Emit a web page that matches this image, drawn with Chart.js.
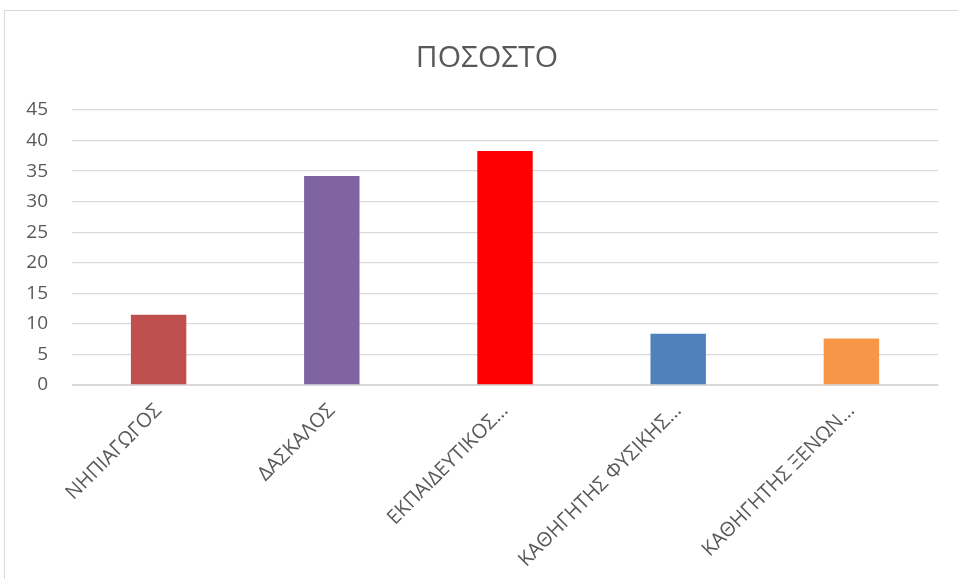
<!DOCTYPE html>
<html>
<head>
<meta charset="utf-8">
<script src="https://cdn.jsdelivr.net/npm/chart.js@4/dist/chart.umd.min.js"></script>
<style>
  html, body { margin: 0; padding: 0; background: #fff; overflow: hidden; }
  #frame { position: absolute; left: 4px; top: 10px; width: 1000px; height: 700px; border: 1px solid #d9d9d9; box-sizing: border-box; }
  #wrap { position: absolute; left: 0; top: 0; width: 958px; height: 579px; }
</style>
</head>
<body>
<div id="frame"></div>
<div id="wrap"><canvas id="c"></canvas></div>
<script>
const chartTitle = "ΠΟΣΟΣΤΟ";
const categories = ["ΝΗΠΙΑΓΩΓΟΣ", "ΔΑΣΚΑΛΟΣ", "ΕΚΠΑΙΔΕΥΤΙΚΟΣ…", "ΚΑΘΗΓΗΤΗΣ ΦΥΣΙΚΗΣ…", "ΚΑΘΗΓΗΤΗΣ ΞΕΝΩΝ…"];
const values = [11.5, 34.2, 38.3, 8.4, 7.6];
const barColors = ["#c0504d", "#8064a2", "#ff0000", "#4f81bd", "#f79646"];
const yMin = 0, yMax = 45, yStep = 5;

new Chart(document.getElementById("c"), {
  type: "bar",
  data: {
    labels: categories,
    datasets: [{ data: values, backgroundColor: barColors, barPercentage: 0.32, categoryPercentage: 1.0, yAxisID: "y" }]
  },
  options: {
    responsive: true,
    maintainAspectRatio: false,
    animation: false,
    layout: { padding: { left: 16, right: 0, top: 10, bottom: 0 } },
    plugins: {
      legend: { display: false },
      tooltip: { enabled: false },
      title: {
        display: true, text: chartTitle, color: "#595959",
        font: { family: "Open Sans", size: 30, weight: "normal" },
        padding: { top: 30, bottom: 34 }
      }
    },
    scales: {
      x: {
        grid: { display: false },
        border: { color: "#d9d9d9" },
        ticks: {
          color: "#595959", maxRotation: 45, minRotation: 45, autoSkip: false,
          font: { family: "Open Sans", size: 20 }, padding: 6
        },
        afterFit: (axis) => { axis.paddingLeft = 0; axis.paddingRight = 0; axis.height = 194; }
      },
      y: {
        position: "left",
        min: yMin, max: yMax,
        grid: { color: "#d9d9d9", lineWidth: 1.3, drawTicks: false },
        border: { display: false },
        ticks: { stepSize: yStep, color: "#595959", font: { family: "Open Sans", size: 19 }, padding: 24 },
        afterFit: (axis) => { axis.width = 56; }
      },
      ySpacer: {
        position: "right",
        display: true,
        grid: { display: false },
        border: { display: false },
        ticks: { display: false },
        afterFit: (axis) => { axis.width = 20; }
      }
    }
  }
});
</script>
</body>
</html>
